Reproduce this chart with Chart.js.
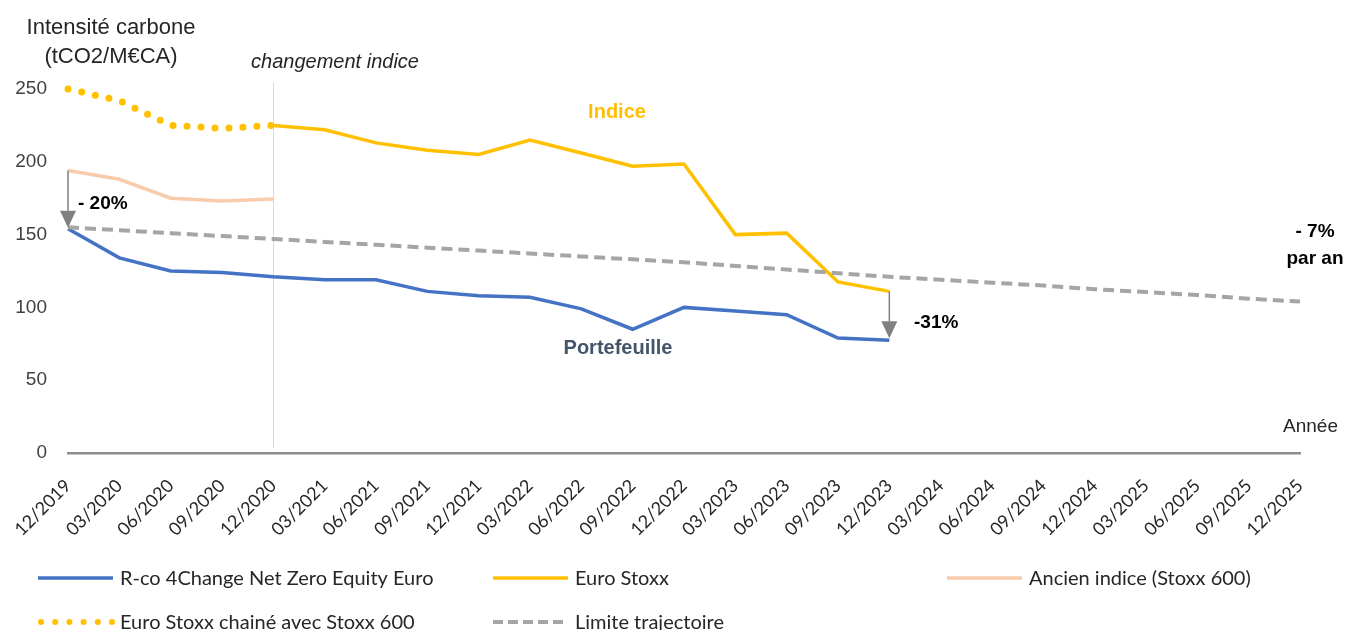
<!DOCTYPE html>
<html lang="fr">
<head>
<meta charset="utf-8">
<title>Intensité carbone</title>
<script src="https://cdn.jsdelivr.net/npm/chart.js@4.4.1/dist/chart.umd.min.js"></script>
<style>
  html, body { margin: 0; padding: 0; background: #fff; }
  #wrap { width: 1351px; height: 630px; position: relative; }
</style>
</head>
<body>
<div id="wrap"><canvas id="chart" width="1351" height="630"></canvas></div>
<script>
// Data
const quarters = ['12/2019', '03/2020', '06/2020', '09/2020', '12/2020', '03/2021', '06/2021', '09/2021',
  '12/2021', '03/2022', '06/2022', '09/2022', '12/2022', '03/2023', '06/2023', '09/2023', '12/2023',
  '03/2024', '06/2024', '09/2024', '12/2024', '03/2025', '06/2025', '09/2025', '12/2025'];

const portefeuille = [154, 134, 125, 124, 121, 119, 119, 111, 108, 107, 99, 85, 100, 97.5, 95, 79, 77.5,
  null, null, null, null, null, null, null, null];
const euroStoxx = [null, null, null, null, 225, 222, 213, 208, 205, 215, 206, 197, 198.5, 150, 151, 117.5, 111,
  null, null, null, null, null, null, null, null];
const ancienIndice = [194, 188, 175, 173, 174.5, null, null, null, null, null, null, null, null,
  null, null, null, null, null, null, null, null, null, null, null, null];
const chaineStoxx600 = [250, 242, 225, 223, 225, null, null, null, null, null, null, null, null,
  null, null, null, null, null, null, null, null, null, null, null, null];
const limiteTrajectoire = [155, 153, 151, 149, 147, 145, 143, 141, 139, 137, 135, 133, 131, 128.5, 126,
  123.5, 121, 119, 117, 115, 112.5, 110.5, 108.5, 106, 104];
const yTicks = [0, 50, 100, 150, 200, 250];

const changeIndex = quarters.indexOf('12/2020');
const lastIndex = quarters.indexOf('12/2023');

// Colours
const BLUE = '#4472c4';
const GOLD = '#ffc000';
const PEACH = '#f8cbad';
const GREY = '#a5a5a5';

const datasets = [
  { label: 'R-co 4Change Net Zero Equity Euro', data: portefeuille, borderColor: BLUE, borderWidth: 3.5, order: 5 },
  { label: 'Euro Stoxx', data: euroStoxx, borderColor: GOLD, borderWidth: 3.5, order: 4 },
  { label: 'Ancien indice (Stoxx 600)', data: ancienIndice, borderColor: PEACH, borderWidth: 3.5, order: 3 },
  { label: 'Euro Stoxx chainé avec Stoxx 600', data: chaineStoxx600, borderColor: GOLD, borderWidth: 7,
    borderDash: [0, 14], borderCapStyle: 'round', order: 2 },
  { label: 'Limite trajectoire', data: limiteTrajectoire, borderColor: GREY, borderWidth: 4,
    borderDash: [11, 6], order: 1 }
];
datasets.forEach(d => {
  d.pointRadius = 0;
  d.pointHoverRadius = 0;
  d.tension = 0;
  d.fill = false;
  d.clip = false;
  d.spanGaps = false;
});

// Legend layout (two rows, three columns)
const legendCols = [38, 493, 947];
const legendRows = [578, 622];
const legendSlots = [[0, 0], [1, 0], [2, 0], [0, 1], [1, 1]];

function drawArrow(ctx, x, yFrom, yTo) {
  const head = 17;
  ctx.strokeStyle = '#808080';
  ctx.fillStyle = '#808080';
  ctx.lineWidth = 1.5;
  ctx.beginPath();
  ctx.moveTo(x, yFrom);
  ctx.lineTo(x, yTo - head);
  ctx.stroke();
  ctx.beginPath();
  ctx.moveTo(x - 8, yTo - head);
  ctx.lineTo(x + 8, yTo - head);
  ctx.lineTo(x, yTo);
  ctx.closePath();
  ctx.fill();
}

const decorPlugin = {
  id: 'decor',
  beforeDatasetsDraw(chart) {
    const { ctx, scales: { x, y } } = chart;
    const px = Math.round(x.getPixelForValue(changeIndex)) + 0.5;
    ctx.save();
    ctx.strokeStyle = '#d9d9d9';
    ctx.lineWidth = 1;
    ctx.beginPath();
    ctx.moveTo(px, 82);
    ctx.lineTo(px, y.bottom - 5);
    ctx.stroke();
    ctx.restore();
  },
  afterDraw(chart) {
    const { ctx, scales: { x, y } } = chart;
    ctx.save();

    // axis titles
    ctx.fillStyle = '#262626';
    ctx.textAlign = 'center';
    ctx.textBaseline = 'middle';
    ctx.font = '22px "Liberation Sans", Arial, sans-serif';
    ctx.fillText('Intensité carbone', 111, 28);
    ctx.fillText('(tCO2/M€CA)', 111, 57);
    ctx.font = '19px "Liberation Sans", Arial, sans-serif';
    ctx.textAlign = 'right';
    ctx.fillText('Année', 1338, 427);
    ctx.textAlign = 'center';
    ctx.font = 'italic 20px "Liberation Sans", Arial, sans-serif';
    ctx.fillText('changement indice', 335, 62);

    // series labels
    ctx.font = 'bold 20px "Liberation Sans", Arial, sans-serif';
    ctx.fillStyle = GOLD;
    ctx.fillText('Indice', 617, 112);
    ctx.fillStyle = '#44546a';
    ctx.fillText('Portefeuille', 618, 348);

    // arrows
    const x0 = x.getPixelForValue(0);
    drawArrow(ctx, x0, y.getPixelForValue(ancienIndice[0]), y.getPixelForValue(portefeuille[0]) - 1);
    const x1 = x.getPixelForValue(lastIndex);
    drawArrow(ctx, x1, y.getPixelForValue(euroStoxx[lastIndex]), y.getPixelForValue(portefeuille[lastIndex]) - 2);

    ctx.fillStyle = '#000';
    ctx.font = 'bold 19px "Liberation Sans", Arial, sans-serif';
    ctx.textAlign = 'left';
    ctx.fillText('- 20%', 78, 204);
    ctx.fillText('-31%', 914, 323);
    ctx.textAlign = 'center';
    ctx.fillText('- 7%', 1315, 232);
    ctx.fillText('par an', 1315, 259);

    // legend
    ctx.font = '20px Lato, "Open Sans", sans-serif';
    ctx.textAlign = 'left';
    chart.data.datasets.forEach((ds, i) => {
      const [c, r] = legendSlots[i];
      const lx = legendCols[c];
      const ly = legendRows[r];
      ctx.save();
      ctx.strokeStyle = ds.borderColor;
      if (ds.borderCapStyle === 'round') {
        ctx.lineWidth = 6;
        ctx.lineCap = 'round';
        ctx.setLineDash([0, 14.2]);
        ctx.beginPath();
        ctx.moveTo(lx + 3, ly);
        ctx.lineTo(lx + 75, ly);
      } else {
        ctx.lineWidth = ds.borderDash ? 4 : 3.5;
        ctx.setLineDash(ds.borderDash ? [10, 5] : []);
        ctx.beginPath();
        ctx.moveTo(lx, ly);
        ctx.lineTo(lx + 75, ly);
      }
      ctx.stroke();
      ctx.restore();
      ctx.fillStyle = '#262626';
      ctx.fillText(ds.label, lx + 82, ly + 1);
    });

    ctx.restore();
  }
};

new Chart(document.getElementById('chart'), {
  type: 'line',
  data: { labels: quarters, datasets: datasets },
  options: {
    responsive: false,
    animation: false,
    layout: { padding: { top: 89, right: 51, bottom: 0, left: 0 } },
    plugins: {
      legend: { display: false },
      tooltip: { enabled: false },
      title: { display: false }
    },
    scales: {
      x: {
        type: 'category',
        offset: false,
        grid: { display: false, drawTicks: false },
        border: { display: true, color: '#8c8c8c', width: 2.5 },
        ticks: {
          autoSkip: false,
          minRotation: 45,
          maxRotation: 45,
          padding: 22,
          color: '#262626',
          font: { family: 'Lato, "Open Sans", sans-serif', size: 18 }
        },
        afterFit(scale) {
          scale.height = 177;
          scale.paddingLeft = 0;
          scale.paddingRight = 0;
        }
      },
      y: {
        min: 0,
        max: 250,
        grid: { display: false, drawTicks: false },
        border: { display: false },
        afterBuildTicks(scale) { scale.ticks = yTicks.map(v => ({ value: v })); },
        ticks: {
          padding: 21,
          color: '#404040',
          font: { family: '"Liberation Sans", Arial, sans-serif', size: 19 }
        },
        afterFit(scale) { scale.width = 68; }
      }
    }
  },
  plugins: [decorPlugin]
});
</script>
</body>
</html>
